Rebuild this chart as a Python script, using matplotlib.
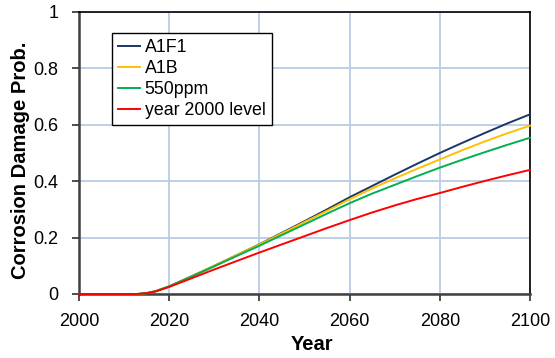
import numpy as np
import matplotlib.pyplot as plt

plt.rcParams['font.family'] = ['Liberation Sans', 'DejaVu Sans']

years = [2000, 2005, 2010, 2013, 2015, 2017, 2020, 2025, 2030, 2035, 2040, 2045,
         2050, 2055, 2060, 2065, 2070, 2075, 2080, 2085, 2090, 2095, 2100]

a1f1 = [0, 0, 0, 0, 0.003, 0.010, 0.027, 0.063, 0.100, 0.138, 0.176, 0.217,
        0.258, 0.300, 0.343, 0.383, 0.423, 0.462, 0.500, 0.536, 0.571, 0.605, 0.637]
a1b = [0, 0, 0, 0, 0.003, 0.010, 0.027, 0.063, 0.100, 0.138, 0.175, 0.215,
       0.255, 0.295, 0.336, 0.374, 0.410, 0.444, 0.477, 0.510, 0.541, 0.570, 0.597]
ppm550 = [0, 0, 0, 0, 0.003, 0.010, 0.027, 0.062, 0.098, 0.135, 0.171, 0.209,
          0.247, 0.285, 0.322, 0.356, 0.387, 0.418, 0.448, 0.476, 0.503, 0.529, 0.554]
level2000 = [0, 0, 0, 0, 0.003, 0.009, 0.025, 0.056, 0.087, 0.117, 0.147, 0.176,
             0.205, 0.234, 0.262, 0.289, 0.314, 0.337, 0.358, 0.380, 0.401, 0.421, 0.440]

series = [('A1F1', a1f1, '#1a3668'),
          ('A1B', a1b, '#ffc000'),
          ('550ppm', ppm550, '#00b050'),
          ('year 2000 level', level2000, '#ff0000')]

fig = plt.figure(figsize=(5.55, 3.58), dpi=100)
ax = fig.add_axes([0.1423, 0.1788, 0.8126, 0.7877])

# lines are left unclipped so the flat start stays visible on the x axis
for name, vals, col in series:
    ax.plot(years, vals, color=col, lw=1.4, label=name, clip_on=False, zorder=3)

ax.set_xlim(2000, 2100)
ax.set_ylim(0, 1)
ax.set_xticks(np.arange(2000, 2101, 20))
ax.set_yticks([0, 0.2, 0.4, 0.6, 0.8, 1])
ax.set_yticklabels(['0', '0.2', '0.4', '0.6', '0.8', '1'])
ax.grid(True, color='#b9cde5', lw=1.3)
ax.set_axisbelow(True)

ax.tick_params(axis='both', labelsize=13, length=5, width=1.2, direction='out',
               color='#303030')
ax.tick_params(axis='x', pad=9)
ax.tick_params(axis='y', pad=10)
for side in ['left', 'bottom']:
    ax.spines[side].set_color('#404040')
    ax.spines[side].set_linewidth(1.8)
for side in ['top', 'right']:
    ax.spines[side].set_color('black')
    ax.spines[side].set_linewidth(1.2)

ax.set_xlabel('Year', fontsize=14.5, fontweight='bold')
ax.xaxis.set_label_coords(0.517, -0.145)
ax.set_ylabel('Corrosion Damage Prob.', fontsize=14.5, fontweight='bold')
ax.yaxis.set_label_coords(-0.108, 0.475)

leg = ax.legend(loc='upper left', bbox_to_anchor=(0.073, 0.925), borderaxespad=0,
                fontsize=12.8, handlelength=1.25, handletextpad=0.25, labelspacing=0.22,
                borderpad=0.35, fancybox=False, framealpha=1)
leg.get_frame().set_edgecolor('black')
leg.get_frame().set_linewidth(1.0)

fig.savefig('out.png', dpi=100)
